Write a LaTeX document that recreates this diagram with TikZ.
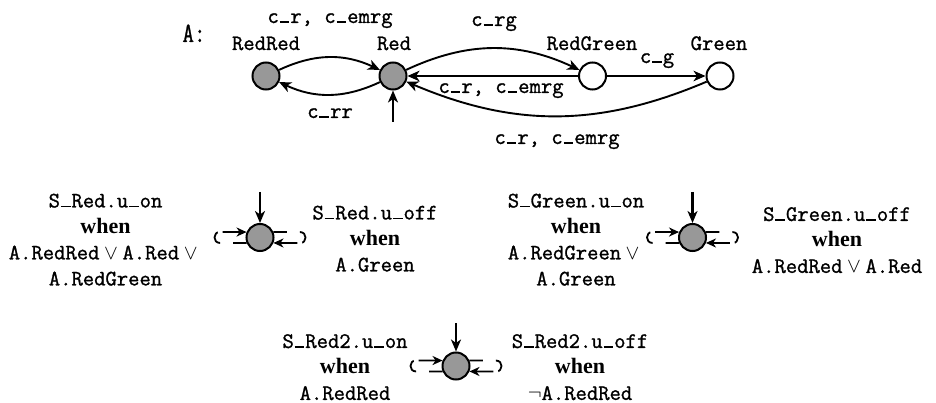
\documentclass[tikz,border=0pt]{standalone}
\usepackage{fontspec}
\usepackage{graphicx}
\usetikzlibrary{arrows.meta}
\setmonofont{Latin Modern Mono}[FakeBold=1.2]
\newfontfamily\whenfont{Liberation Serif}
\definecolor{stgray}{RGB}{152,152,152}
\newcommand\us{\makebox[0.525em]{\rule{0.44em}{0.08em}}}
\newcommand\ttl{\fontsize{22}{26}\selectfont\ttfamily}
\newcommand\whn{{\whenfont\bfseries when}}
\begin{document}
\begin{tikzpicture}[x=1pt,y=-1pt,
  st/.style={circle,draw,line width=2pt,minimum size=27pt,inner sep=0pt,fill=stgray},
  wst/.style={st,fill=white},
  lbl/.style={font=\ttl,inner sep=0pt,anchor=base},
  blk/.style={font=\ttl,inner sep=0pt,align=center,anchor=north},
  cedge/.style={-{Stealth[length=12pt,width=10.5pt,inset=3.5pt]},line width=1.9pt},
  sedge/.style={-{Stealth[length=12pt,width=10.5pt,inset=3.5pt]},line width=2.7pt},
  initarr/.style={-{Stealth[length=12pt,width=10pt,inset=3.5pt]},line width=2.4pt},
  loopst/.style={-{Stealth[length=10pt,width=9pt,inset=3pt]},line width=1.8pt,
    dash pattern=on 13.5pt off 13pt on 15pt off 5pt on 60pt}]
\useasboundingbox (0,0) rectangle (936,403);

% automaton A
\node[font=\fontsize{28}{28}\selectfont\ttfamily,inner sep=0pt,anchor=base] (Alab) at (194,42) {\scalebox{0.8}[1]{A:}};
\node[st]  (RR) at (266,76) {};
\node[st]  (R)  at (393,76) {};
\node[wst] (RG) at (592.5,76) {};
\node[wst] (G)  at (720,76) {};
\node[lbl] (nRR) at (266,50) {RedRed};
\node[lbl] (nR)  at (394,50) {Red};
\node[lbl] (nRG) at (592,50) {RedGreen};
\node[lbl] (nG)  at (719,50) {Green};

\draw[cedge] (RR) to[bend left=25] (R);
\draw[cedge] (R) to[bend left=25] (RR);
\draw[cedge] (R) to[bend left=25] (RG);
\draw[sedge] (RG) -- (R);
\draw[sedge] (RG) -- (G);
\draw[cedge] (G) to[bend left=23] (R);
\coordinate (iR) at (393,122);
\draw[initarr] (iR) -- (R);

\node[lbl] (l1) at (330,23)  {c\us r, c\us emrg};
\node[lbl] (l2) at (330,118) {c\us rr};
\node[lbl] (l3) at (494,26)  {c\us rg};
\node[lbl] (l4) at (657,63)  {c\us g};
\node[lbl] (l5) at (501,93)  {c\us r, c\us emrg};
\node[lbl] (l6) at (557,144) {c\us r, c\us emrg};

% S_Red
\node[st] (S1) at (260,237.5) {};
\coordinate (i1) at (260,192);
\draw[initarr] (i1) -- (S1);
\draw[loopst] (S1.202) -- ++(-26.6,0) .. controls +(-7.3,0) and +(-7.3,0) .. ++(0,-11) -- (S1.158);
\draw[loopst] (S1.22) -- ++(26.6,0) .. controls +(7.3,0) and +(7.3,0) .. ++(0,11) -- (S1.338);
\node[blk] (t1) at (105.5,193.5) {S\us Red.u\us on\\\whn\\$\mbox{A.RedRed}\vee\mbox{A.Red}\vee{}$\\A.RedGreen};
\node[blk] (t2) at (375,205.5) {S\us Red.u\us off\\\whn\\A.Green};

% S_Green
\node[st] (S2) at (692.5,237.5) {};
\coordinate (i2) at (692.5,192);
\draw[initarr] (i2) -- (S2);
\draw[loopst] (S2.202) -- ++(-26.6,0) .. controls +(-7.3,0) and +(-7.3,0) .. ++(0,-11) -- (S2.158);
\draw[loopst] (S2.22) -- ++(26.6,0) .. controls +(7.3,0) and +(7.3,0) .. ++(0,11) -- (S2.338);
\node[blk] (t3) at (576,193.5) {S\us Green.u\us on\\\whn\\$\mbox{A.RedGreen}\vee{}$\\A.Green};
\node[blk] (t4) at (837,207) {S\us Green.u\us off\\\whn\\$\mbox{A.RedRed}\vee\mbox{A.Red}$};

% S_Red2
\node[st] (S3) at (456,366) {};
\coordinate (i3) at (456,323);
\draw[initarr] (i3) -- (S3);
\draw[loopst] (S3.202) -- ++(-26.6,0) .. controls +(-7.3,0) and +(-7.3,0) .. ++(0,-11) -- (S3.158);
\draw[loopst] (S3.22) -- ++(26.6,0) .. controls +(7.3,0) and +(7.3,0) .. ++(0,11) -- (S3.338);
\node[blk] (t5) at (345,334) {S\us Red2.u\us on\\\whn\\A.RedRed};
\node[blk] (t6) at (580,334) {S\us Red2.u\us off\\\whn\\$\neg\mbox{A.RedRed}$};
\end{tikzpicture}
\end{document}
